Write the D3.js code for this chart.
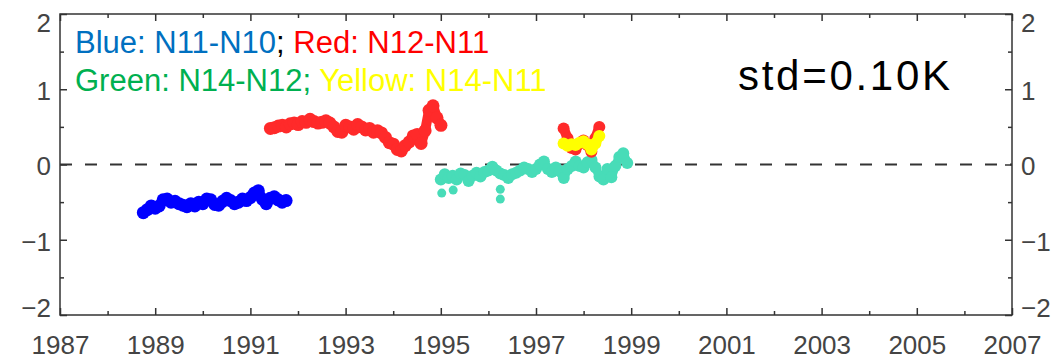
<!DOCTYPE html>
<html>
<head>
<meta charset="utf-8">
<script src="https://cdn.jsdelivr.net/npm/d3@7"></script>
<style>
  body { margin: 0; background: #fff; }
  svg { display: block; font-family: "Liberation Sans", Arial, sans-serif; }
</style>
</head>
<body>
<script>
'use strict';

const W = 1054, H = 361;
const margin = { top: 14, right: 42, bottom: 46, left: 60 };

// monthly samples, start year of each run
const blueStart = 1988.75;
const blueValues = [-0.64, -0.60, -0.55, -0.58, -0.55, -0.47, -0.46, -0.50, -0.49, -0.52,
    -0.54, -0.56, -0.52, -0.55, -0.50, -0.52, -0.46, -0.47, -0.53, -0.54,
    -0.49, -0.45, -0.48, -0.52, -0.50, -0.46, -0.48, -0.44, -0.38, -0.35,
    -0.46, -0.52, -0.45, -0.43, -0.47, -0.50, -0.48];

const redStart = 1991.42;
const redValues = [0.48, 0.49, 0.51, 0.52, 0.50, 0.54, 0.55, 0.53, 0.57, 0.56,
    0.60, 0.57, 0.55, 0.56, 0.58, 0.55, 0.50, 0.44, 0.43, 0.52,
    0.50, 0.47, 0.53, 0.50, 0.46, 0.48, 0.43, 0.45, 0.42, 0.36,
    0.29, 0.27, 0.20, 0.18, 0.25, 0.30, 0.38, 0.40, 0.28, 0.45,
    0.72, 0.78, 0.62, 0.52];

const greenStart = 1995.0;
const greenValues = [-0.20, -0.13, -0.18, -0.15, -0.20, -0.12, -0.14, -0.22, -0.15, -0.11,
    -0.16, -0.10, -0.08, -0.03, -0.08, -0.12, -0.14, -0.18, -0.13, -0.11,
    -0.08, -0.04, -0.06, -0.10, -0.06, 0.00, 0.04, -0.06, -0.10, -0.04,
    -0.09, -0.18, -0.06, -0.02, 0.04, -0.02, -0.04, 0.03, 0.06, -0.04,
    -0.16, -0.20, -0.06, -0.17, -0.02, 0.10, 0.15, 0.02];
const greenOutliers = [[1995.02, -0.38], [1995.26, -0.34], [1996.25, -0.33], [1996.25, -0.46]];

const red2Start = 1997.58;
const red2Values = [0.48, 0.35, 0.22, 0.20, 0.28, 0.32, 0.26, 0.17, 0.35, 0.50];

const yellowStart = 1997.58;
const yellowValues = [0.28, 0.25, 0.27, 0.26, 0.29, 0.31, 0.27, 0.20, 0.28, 0.38];

const yearLabels = [1987, 1989, 1991, 1993, 1995, 1997, 1999, 2001, 2003, 2005, 2007];
const yearMinor = [1988, 1990, 1992, 1994, 1996, 1998, 2000, 2002, 2004, 2006];
const yMajor = [-2, -1, 0, 1, 2];
const yMinor = [-1.5, -0.5, 0.5, 1.5];

const svg = d3.select("body").append("svg")
    .attr("width", W)
    .attr("height", H);

const x = d3.scaleLinear().domain([1987, 2007]).range([margin.left, W - margin.right]);
const y = d3.scaleLinear().domain([-2, 2]).range([H - margin.bottom, margin.top]);

const toPoints = (start, vals) => vals.map((v, i) => [start + i / 12, v]);

// zero line
svg.append("line")
    .attr("x1", x(1987)).attr("x2", x(2007))
    .attr("y1", y(0)).attr("y2", y(0))
    .attr("stroke", "#333")
    .attr("stroke-width", 2)
    .attr("stroke-dasharray", "12,13");

const line = d3.line().x(d => x(d[0])).y(d => y(d[1]));

function drawSeries(pts, color, r, w) {
    svg.append("path")
        .datum(pts)
        .attr("d", line)
        .attr("fill", "none")
        .attr("stroke", color)
        .attr("stroke-width", w)
        .attr("stroke-linejoin", "round")
        .attr("stroke-linecap", "round");
    svg.append("g").selectAll("circle")
        .data(pts)
        .join("circle")
        .attr("cx", d => x(d[0]))
        .attr("cy", d => y(d[1]))
        .attr("r", r)
        .attr("fill", color);
}

drawSeries(toPoints(blueStart, blueValues), "#0000ff", 6.5, 10);
drawSeries(toPoints(redStart, redValues), "#ff2a2a", 6.5, 10);
drawSeries(toPoints(greenStart, greenValues), "#48dcb8", 6, 9);
svg.append("g").selectAll("circle")
    .data(greenOutliers)
    .join("circle")
    .attr("cx", d => x(d[0]))
    .attr("cy", d => y(d[1]))
    .attr("r", 4.5)
    .attr("fill", "#48dcb8");
drawSeries(toPoints(red2Start, red2Values), "#ff2a2a", 6, 10);
drawSeries(toPoints(yellowStart, yellowValues), "#ffff00", 6, 10);

// axes, ticks inward
function styleAxis(g) {
    g.select(".domain").remove();
    g.selectAll(".tick line").attr("stroke", "#333").attr("stroke-width", 1.5);
    g.selectAll("text")
        .attr("fill", "#444")
        .style("font-size", "26px")
        .style("font-family", '"Liberation Sans", Arial, sans-serif');
}

const plotBottom = H - margin.bottom, plotTop = margin.top;
const plotLeft = margin.left, plotRight = W - margin.right;

svg.append("g").attr("transform", `translate(0,${plotBottom})`)
    .call(d3.axisBottom(x).tickValues(yearLabels).tickFormat(d3.format("d")).tickSize(-7).tickPadding(21))
    .call(styleAxis);
svg.append("g").attr("transform", `translate(0,${plotBottom})`)
    .call(d3.axisBottom(x).tickValues(yearMinor).tickFormat("").tickSize(-4))
    .call(styleAxis);
svg.append("g").attr("transform", `translate(0,${plotTop})`)
    .call(d3.axisTop(x).tickValues(yearLabels).tickFormat("").tickSize(-7))
    .call(styleAxis);
svg.append("g").attr("transform", `translate(0,${plotTop})`)
    .call(d3.axisTop(x).tickValues(yearMinor).tickFormat("").tickSize(-4))
    .call(styleAxis);

const yFmt = d => d < 0 ? "\u2212" + Math.abs(d) : String(d);
const shiftEnds = g => g.selectAll(".tick text")
    .attr("y", d => d === 2 ? 9 : d === -2 ? -7 : 2);

svg.append("g").attr("transform", `translate(${plotLeft},0)`)
    .call(d3.axisLeft(y).tickValues(yMajor).tickFormat(yFmt).tickSize(-7).tickPadding(9))
    .call(styleAxis).call(shiftEnds);
svg.append("g").attr("transform", `translate(${plotLeft},0)`)
    .call(d3.axisLeft(y).tickValues(yMinor).tickFormat("").tickSize(-4))
    .call(styleAxis);
svg.append("g").attr("transform", `translate(${plotRight},0)`)
    .call(d3.axisRight(y).tickValues(yMajor).tickFormat(yFmt).tickSize(-7).tickPadding(9))
    .call(styleAxis).call(shiftEnds);
svg.append("g").attr("transform", `translate(${plotRight},0)`)
    .call(d3.axisRight(y).tickValues(yMinor).tickFormat("").tickSize(-4))
    .call(styleAxis);

// frame
svg.append("rect")
    .attr("x", plotLeft).attr("y", plotTop)
    .attr("width", plotRight - plotLeft).attr("height", plotBottom - plotTop)
    .attr("fill", "none")
    .attr("stroke", "#333")
    .attr("stroke-width", 1.5);

// legend
const legend = [
    [["Blue: N11-N10", "#0070c0"], ["; ", "#000"], ["Red: N12-N11", "#ff0000"]],
    [["Green: N14-N12; ", "#00b050"], ["Yellow: N14-N11", "#ffff00"]]
];
legend.forEach((row, i) => {
    const t = svg.append("text")
        .attr("x", 75)
        .attr("y", 53 + i * 38)
        .style("font-size", "31px")
        .attr("xml:space", "preserve");
    row.forEach(([s, c]) => t.append("tspan").attr("fill", c).text(s));
});

svg.append("text")
    .attr("x", 738)
    .attr("y", 90)
    .style("font-size", "42px")
    .attr("fill", "#000")
    .attr("textLength", 212)
    .text("std=0.10K");
</script>
</body>
</html>
